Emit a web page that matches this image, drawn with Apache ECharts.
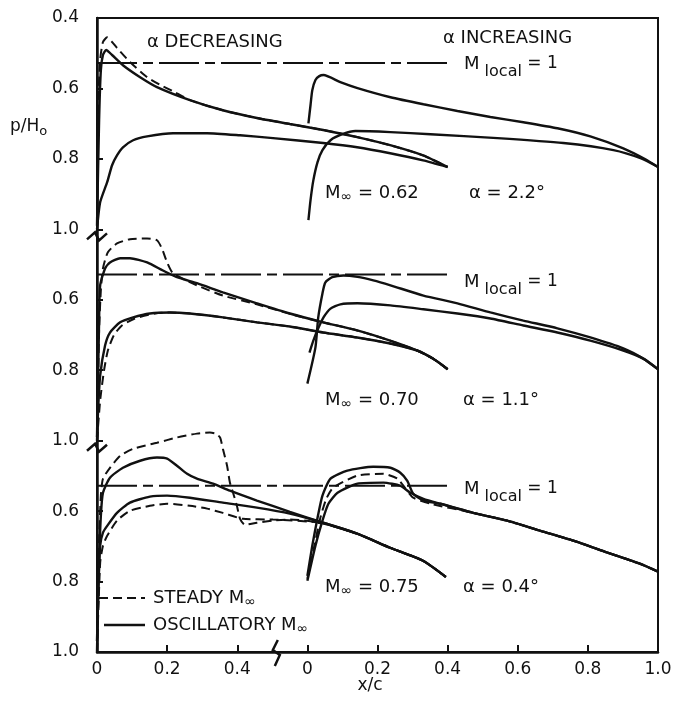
<!DOCTYPE html>
<html>
<head>
<meta charset="utf-8">
<title>p/H0 steady vs oscillatory</title>
<script src="https://cdn.jsdelivr.net/npm/echarts@6/dist/echarts.min.js"></script>
<style>
  html, body { margin: 0; padding: 0; background: #fff; }
  #chart { width: 675px; height: 711px; }
</style>
</head>
<body>
<div id="chart"></div>
<script>
// [x/c, p/H0] pairs.  "dec" = alpha decreasing (left half),
// "inc" = alpha increasing (right half).  Panels: 1 M=0.62, 2 M=0.70, 3 M=0.75
const p1DecUpper = [[0,0.99],[0.006,0.69],[0.011,0.548],[0.017,0.505],[0.026,0.491],[0.043,0.505],[0.074,0.534],[0.123,0.568],[0.171,0.596],[0.265,0.633],[0.359,0.662],[0.456,0.684],[0.55,0.701],[0.645,0.718],[0.742,0.738],[0.836,0.761],[0.93,0.79],[1.0,0.823]];
const p1DecUpperSteady = [[0,0.99],[0.003,0.66],[0.009,0.519],[0.017,0.468],[0.029,0.455],[0.043,0.468],[0.057,0.485],[0.094,0.525],[0.143,0.568],[0.18,0.59],[0.217,0.608],[0.265,0.633],[0.359,0.662],[0.456,0.684],[0.55,0.701],[0.645,0.718],[0.742,0.738],[0.836,0.761],[0.93,0.79],[1.0,0.823]];
const p1DecLower = [[0,1.0],[0.009,0.923],[0.029,0.866],[0.043,0.818],[0.057,0.79],[0.074,0.767],[0.103,0.747],[0.143,0.736],[0.217,0.727],[0.314,0.727],[0.408,0.733],[0.502,0.741],[0.645,0.755],[0.742,0.767],[0.836,0.784],[0.93,0.804],[1.0,0.823]];
const p1IncUpper = [[0.003,0.699],[0.009,0.647],[0.014,0.605],[0.023,0.576],[0.034,0.565],[0.046,0.562],[0.094,0.582],[0.143,0.599],[0.237,0.625],[0.331,0.645],[0.428,0.664],[0.522,0.681],[0.616,0.696],[0.713,0.713],[0.807,0.736],[0.901,0.77],[0.964,0.801],[1.0,0.823]];
const p1IncLower = [[0.003,0.974],[0.009,0.917],[0.017,0.861],[0.029,0.809],[0.043,0.775],[0.066,0.747],[0.1,0.73],[0.137,0.721],[0.237,0.724],[0.351,0.73],[0.542,0.741],[0.73,0.755],[0.873,0.775],[0.95,0.798],[1.0,0.823]];

const p2DecUpper = [[0,0.99],[0.006,0.659],[0.009,0.559],[0.023,0.511],[0.037,0.494],[0.066,0.482],[0.094,0.482],[0.143,0.494],[0.188,0.517],[0.228,0.536],[0.285,0.553],[0.359,0.579],[0.456,0.61],[0.55,0.639],[0.645,0.664],[0.742,0.687],[0.836,0.716],[0.913,0.744],[0.958,0.767],[1.0,0.797]];
const p2DecUpperSteady = [[0,0.99],[0.006,0.687],[0.011,0.573],[0.017,0.511],[0.031,0.465],[0.057,0.44],[0.094,0.428],[0.143,0.426],[0.171,0.431],[0.185,0.454],[0.2,0.494],[0.217,0.525],[0.285,0.559],[0.359,0.588],[0.456,0.613],[0.55,0.64],[0.645,0.664],[0.742,0.687],[0.836,0.716],[0.913,0.744],[0.958,0.767],[1.0,0.797]];
const p2DecLower = [[0,1.0],[0.003,0.915],[0.009,0.815],[0.023,0.73],[0.037,0.693],[0.066,0.664],[0.103,0.65],[0.151,0.639],[0.208,0.636],[0.265,0.639],[0.359,0.65],[0.456,0.664],[0.55,0.676],[0.645,0.693],[0.742,0.707],[0.836,0.724],[0.913,0.744],[0.958,0.767],[1.0,0.797]];
const p2DecLowerSteady = [[0,1.0],[0.009,0.886],[0.02,0.801],[0.031,0.744],[0.048,0.701],[0.071,0.673],[0.108,0.653],[0.165,0.639],[0.208,0.636],[0.265,0.639],[0.359,0.65],[0.456,0.664],[0.55,0.676],[0.645,0.693],[0.742,0.707],[0.836,0.724],[0.913,0.744],[0.958,0.767],[1.0,0.797]];
const p2IncUpper = [[0,0.838],[0.023,0.735],[0.031,0.65],[0.043,0.582],[0.051,0.551],[0.071,0.536],[0.103,0.531],[0.143,0.535],[0.188,0.545],[0.237,0.559],[0.331,0.588],[0.428,0.61],[0.522,0.636],[0.616,0.659],[0.713,0.681],[0.807,0.707],[0.901,0.738],[0.958,0.767],[1.0,0.797]];
const p2IncLower = [[0.006,0.75],[0.017,0.716],[0.031,0.681],[0.046,0.65],[0.066,0.625],[0.094,0.613],[0.143,0.61],[0.237,0.616],[0.331,0.627],[0.428,0.639],[0.522,0.653],[0.616,0.673],[0.713,0.693],[0.807,0.716],[0.901,0.744],[0.958,0.767],[1.0,0.797]];

const p3DecUpper = [[0,0.969],[0.006,0.741],[0.011,0.613],[0.017,0.548],[0.037,0.505],[0.074,0.477],[0.123,0.457],[0.171,0.448],[0.2,0.451],[0.228,0.471],[0.257,0.494],[0.285,0.508],[0.331,0.522],[0.379,0.542],[0.456,0.57],[0.55,0.602],[0.645,0.633],[0.742,0.664],[0.836,0.704],[0.93,0.741],[0.995,0.787]];
const p3DecUpperSteady = [[0,0.969],[0.006,0.684],[0.011,0.556],[0.017,0.508],[0.037,0.477],[0.066,0.443],[0.103,0.423],[0.171,0.406],[0.228,0.391],[0.285,0.38],[0.322,0.377],[0.339,0.38],[0.351,0.391],[0.359,0.423],[0.371,0.471],[0.379,0.519],[0.388,0.548],[0.399,0.585],[0.408,0.622],[0.422,0.639],[0.456,0.633],[0.502,0.627],[0.55,0.624],[0.636,0.633],[0.742,0.664],[0.836,0.704],[0.93,0.741],[0.995,0.787]];
const p3DecLower = [[0,1.0],[0.003,0.855],[0.009,0.698],[0.017,0.661],[0.029,0.642],[0.057,0.605],[0.094,0.576],[0.151,0.559],[0.2,0.556],[0.265,0.562],[0.359,0.576],[0.456,0.59],[0.55,0.607],[0.645,0.633],[0.742,0.664],[0.836,0.704],[0.93,0.741],[0.995,0.787]];
const p3DecLowerSteady = [[0,1.0],[0.009,0.747],[0.017,0.698],[0.029,0.67],[0.057,0.627],[0.094,0.599],[0.151,0.585],[0.2,0.579],[0.265,0.585],[0.314,0.593],[0.359,0.605],[0.416,0.622],[0.502,0.624],[0.636,0.633],[0.742,0.664],[0.836,0.704],[0.93,0.741],[0.995,0.787]];
const p3IncUpper = [[0,0.784],[0.014,0.698],[0.029,0.619],[0.043,0.556],[0.066,0.508],[0.114,0.485],[0.188,0.474],[0.237,0.477],[0.265,0.491],[0.285,0.514],[0.302,0.551],[0.331,0.57],[0.379,0.579],[0.473,0.605],[0.57,0.627],[0.665,0.656],[0.759,0.684],[0.856,0.718],[0.95,0.75],[1.0,0.772]];
const p3IncLower = [[0,0.798],[0.023,0.698],[0.043,0.627],[0.06,0.579],[0.086,0.548],[0.143,0.522],[0.217,0.519],[0.265,0.528],[0.294,0.548],[0.331,0.565],[0.379,0.579],[0.473,0.605],[0.57,0.627],[0.665,0.656],[0.759,0.684],[0.856,0.718],[0.95,0.75],[1.0,0.772]];
const p3IncSteady = [[0,0.792],[0.02,0.698],[0.037,0.619],[0.054,0.565],[0.074,0.533],[0.143,0.499],[0.217,0.494],[0.257,0.508],[0.28,0.536],[0.302,0.562],[0.351,0.579],[0.473,0.605],[0.57,0.627],[0.665,0.656],[0.759,0.684],[0.856,0.718],[0.95,0.75],[1.0,0.772]];

// sonic line M_local = 1, drawn over x/c 0..1 of the left half
const mLocalP = 0.528;
const mLocalX = [0, 1.0];

const machLabels = ['0.62', '0.70', '0.75'];
const alphaLabels = ['2.2°', '1.1°', '0.4°'];

// stacked layout: each panel spans p = 0.4..1.0, shifted down by 0.6 per panel;
// the alpha-increasing half starts 0.6 to the right on the shared x axis
const PANEL_SHIFT = 0.6;
const INC_SHIFT = 0.6;

const INK = '#111';
const FONT = '"DejaVu Sans", sans-serif';

const chart = echarts.init(document.getElementById('chart'), null, { renderer: 'canvas' });

function curve(data, panel, half, dashed) {
  const dx = half === 'inc' ? INC_SHIFT : 0;
  const dy = PANEL_SHIFT * panel;
  return {
    type: 'line',
    data: data.map(d => [d[0] + dx, d[1] + dy]),
    symbol: 'none',
    smooth: 0.2,
    silent: true,
    z: dashed ? 3 : 2,
    lineStyle: { color: INK, width: dashed ? 2 : 2.4, type: dashed ? [9, 5] : 'solid' }
  };
}

function sonicLine(panel) {
  const dy = PANEL_SHIFT * panel;
  return {
    type: 'line',
    data: mLocalX.map(x => [x, mLocalP + dy]),
    symbol: 'none',
    silent: true,
    lineStyle: { color: INK, width: 2, type: [40, 6, 10, 6] }
  };
}

const series = [
  sonicLine(0), sonicLine(1), sonicLine(2),
  curve(p1DecUpper, 0, 'dec'), curve(p1DecUpperSteady, 0, 'dec', true), curve(p1DecLower, 0, 'dec'),
  curve(p1IncUpper, 0, 'inc'), curve(p1IncLower, 0, 'inc'),
  curve(p2DecUpper, 1, 'dec'), curve(p2DecUpperSteady, 1, 'dec', true),
  curve(p2DecLower, 1, 'dec'), curve(p2DecLowerSteady, 1, 'dec', true),
  curve(p2IncUpper, 1, 'inc'), curve(p2IncLower, 1, 'inc'),
  curve(p3DecUpper, 2, 'dec'), curve(p3DecUpperSteady, 2, 'dec', true),
  curve(p3DecLower, 2, 'dec'), curve(p3DecLowerSteady, 2, 'dec', true),
  curve(p3IncUpper, 2, 'inc'), curve(p3IncLower, 2, 'inc'), curve(p3IncSteady, 2, 'inc', true)
];

function xLabel(v) {
  let x = v < 0.5 ? v : v - INC_SHIFT;
  x = Math.round(x * 10) / 10;
  return x === 0 ? '0' : x.toFixed(1);
}

function yLabel(v) {
  if (v <= 1.0001) return v.toFixed(1);
  const r = v - 1.0;
  const q = r - PANEL_SHIFT * Math.floor((r - 1e-6) / PANEL_SHIFT);
  return (0.4 + q).toFixed(1);
}

chart.setOption({
  animation: false,
  backgroundColor: '#fff',
  grid: { left: 97, right: 17, top: 18, bottom: 59, show: true, borderColor: INK, borderWidth: 2 },
  xAxis: {
    type: 'value', min: 0, max: 1.6, interval: 0.2,
    axisLine: { show: true, lineStyle: { color: INK, width: 2.5 } },
    axisTick: { show: true, inside: true, length: 7, lineStyle: { color: INK, width: 2 } },
    axisLabel: { formatter: xLabel, color: INK, fontSize: 17, fontFamily: FONT, margin: 9 },
    splitLine: { show: false }
  },
  yAxis: {
    type: 'value', inverse: true, min: 0.4, max: 2.2, interval: 0.2,
    axisLine: { show: true, lineStyle: { color: INK, width: 2.5 } },
    axisTick: { show: true, inside: true, length: 6, lineStyle: { color: INK, width: 2 } },
    axisLabel: { formatter: yLabel, color: INK, fontSize: 17, fontFamily: FONT, margin: 18 },
    splitLine: { show: false }
  },
  series: series
});

// text helpers
const mctx = document.createElement('canvas').getContext('2d');
function widthOf(s, size) {
  mctx.font = size + 'px ' + FONT;
  return mctx.measureText(s).width;
}
function label(x, y, parts) {
  const els = [];
  parts.forEach(p => {
    const [s, size, dy] = p;
    els.push({
      type: 'text', x: x, y: y + (dy || 0), silent: true,
      style: { text: s, fontSize: size, fontFamily: FONT, fill: INK, verticalAlign: 'middle' }
    });
    x += widthOf(s, size);
  });
  return els;
}

const g = [];
g.push(...label(147, 42, [['α DECREASING', 18]]));
g.push(...label(443, 38, [['α INCREASING', 18]]));
g.push(...label(10, 127, [['p/H', 17], ['o', 13, 5]]));
g.push({ type: 'text', x: 370, y: 686, silent: true,
  style: { text: 'x/c', fontSize: 17, fontFamily: FONT, fill: INK, align: 'center', verticalAlign: 'middle' } });

const sonicY = [64, 282, 489];
const machY = [193, 400, 587];
const alphaX = [469, 463, 463];
for (let i = 0; i < 3; i++) {
  g.push(...label(464, sonicY[i], [['M', 18], [' local', 16, 8], [' = 1', 17]]));
  g.push(...label(325, machY[i], [['M', 18], ['∞', 14, 4], [' = ' + machLabels[i], 18]]));
  g.push(...label(alphaX[i], machY[i], [['α = ' + alphaLabels[i], 18]]));
}

// legend drawn as key lines + text
g.push({ type: 'line', silent: true, shape: { x1: 99, y1: 598, x2: 145, y2: 598 },
  style: { stroke: INK, lineWidth: 2, lineDash: [9, 5] } });
g.push(...label(153, 598, [['STEADY M', 18], ['∞', 14, 4]]));
g.push({ type: 'line', silent: true, shape: { x1: 104, y1: 625, x2: 145, y2: 625 },
  style: { stroke: INK, lineWidth: 2.4 } });
g.push(...label(153, 625, [['OSCILLATORY M', 18], ['∞', 14, 4]]));

// axis break marks
[1.02, 1.62].forEach(v => {
  const [px, py] = chart.convertToPixel({ gridIndex: 0 }, [0, v]);
  g.push({ type: 'polyline', silent: true,
    shape: { points: [[px - 10, py + 3], [px - 2, py - 4], [px + 2, py + 4], [px + 10, py - 3]] },
    style: { stroke: INK, lineWidth: 2.5, fill: null } });
});
(() => {
  const [px, py] = chart.convertToPixel({ gridIndex: 0 }, [0.51, 0.4 + 3 * PANEL_SHIFT]);
  g.push({ type: 'polyline', silent: true,
    shape: { points: [[px + 2, py - 12], [px - 3, py - 2], [px + 4, py + 3], [px - 1, py + 14]] },
    style: { stroke: INK, lineWidth: 2.5, fill: null } });
})();

chart.setOption({ graphic: { elements: g } });
</script>
</body>
</html>
